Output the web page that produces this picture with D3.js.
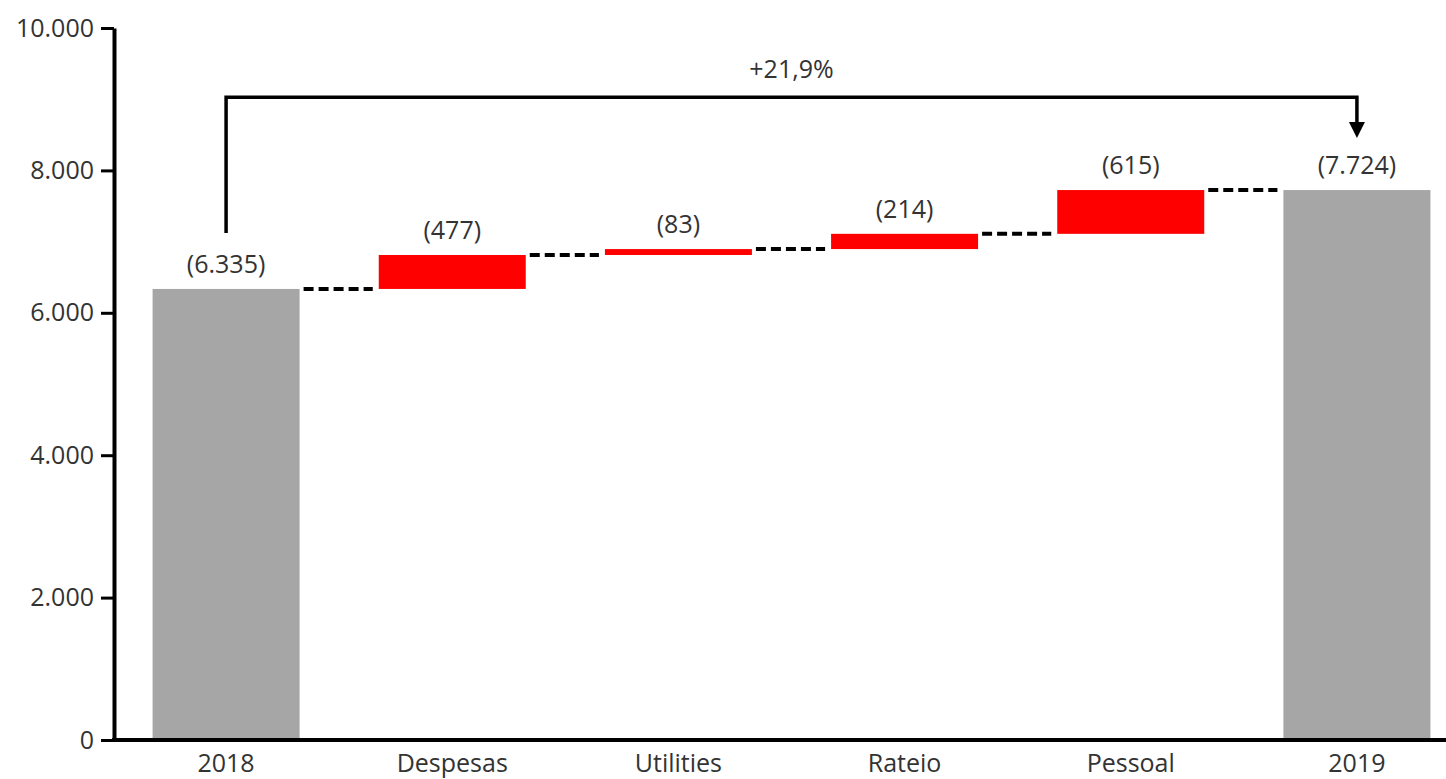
<!DOCTYPE html>
<html>
<head>
<meta charset="utf-8">
<script src="https://cdn.jsdelivr.net/npm/d3@7"></script>
<style>
  html, body { margin: 0; padding: 0; background: #fff; }
  svg { display: block; }
  text { font-family: "Open Sans", sans-serif; fill: #333; }
</style>
</head>
<body>
<svg id="chart" width="1446" height="779"></svg>
<script>
// ---- data ----
const categories = ["2018", "Despesas", "Utilities", "Rateio", "Pessoal", "2019"];
const startValue = 6335;
const deltas = [477, 83, 214, 615];
const endValue = 7724;
const yTicks = [0, 2000, 4000, 6000, 8000, 10000];

// ---- build waterfall segments ----
const segments = [];
segments.push({cat: categories[0], y0: 0, y1: startValue, label: startValue, type: "total"});
let run = startValue;
deltas.forEach((d, i) => {
  segments.push({cat: categories[i + 1], y0: run, y1: run + d, label: d, type: "delta"});
  run += d;
});
segments.push({cat: categories[5], y0: 0, y1: endValue, label: endValue, type: "total"});

const locale = d3.formatLocale({decimal: ",", thousands: ".", grouping: [3], currency: ["", ""]});
const fmt = locale.format(",d");
const pctFmt = locale.format("+.1f");

const svg = d3.select("#chart");
const x = d3.scaleBand().domain(categories).range([113, 1470]).paddingInner(0.35).paddingOuter(0.175);
const y = d3.scaleLinear().domain([0, 10000]).range([740, 28]);

// bars
svg.append("g").selectAll("rect").data(segments).join("rect")
  .attr("x", d => x(d.cat))
  .attr("width", x.bandwidth())
  .attr("y", d => y(Math.max(d.y0, d.y1)))
  .attr("height", d => Math.abs(y(d.y0) - y(d.y1)))
  .attr("fill", d => d.type === "total" ? "#a6a6a6" : "#ff0000");

// connectors
const conns = [];
for (let i = 0; i < segments.length - 1; i++) {
  conns.push({from: segments[i].cat, to: segments[i + 1].cat, v: segments[i].y1});
}
svg.append("g").selectAll("line").data(conns).join("line")
  .attr("x1", d => x(d.from) + x.bandwidth() + 4)
  .attr("x2", d => x(d.to) - 6)
  .attr("y1", d => y(d.v))
  .attr("y2", d => y(d.v))
  .attr("stroke", "#000")
  .attr("stroke-width", 4)
  .attr("stroke-dasharray", "10,5");

// value labels
svg.append("g").selectAll("text").data(segments).join("text")
  .attr("x", d => x(d.cat) + x.bandwidth() / 2)
  .attr("y", d => y(Math.max(d.y0, d.y1)) - 16)
  .attr("text-anchor", "middle")
  .style("font-size", "25px")
  .text(d => "(" + fmt(d.label) + ")");

// y axis
const yAxis = svg.append("g").attr("transform", "translate(114,0)")
  .call(d3.axisLeft(y).tickValues(yTicks).tickFormat(fmt).tickSize(13).tickSizeOuter(0).tickPadding(7));
yAxis.select(".domain").attr("stroke", "#000").attr("stroke-width", 4);
yAxis.selectAll(".tick line").attr("stroke", "#000").attr("stroke-width", 3);
yAxis.selectAll(".tick text").style("font-size", "25px").style("font-family", "Open Sans, sans-serif").attr("fill", "#333");

// x axis
const xAxis = svg.append("g").attr("transform", "translate(0,740)")
  .call(d3.axisBottom(x).tickSize(0).tickPadding(14));
xAxis.select(".domain").remove();
xAxis.append("line").attr("x1", 112).attr("x2", 1446).attr("y1", 0).attr("y2", 0)
  .attr("stroke", "#000").attr("stroke-width", 4);
xAxis.selectAll(".tick text").style("font-size", "25px").style("font-family", "Open Sans, sans-serif").attr("fill", "#333");

// bracket with arrow
const xs = x(categories[0]) + x.bandwidth() / 2;
const xe = x(categories[5]) + x.bandwidth() / 2;
const yTop = y(9000) - 2;
const yStart = y(startValue) - 56;
const tipY = y(endValue) - 52;
svg.append("path")
  .attr("d", `M${xs},${yStart} V${yTop} H${xe} V${tipY - 14}`)
  .attr("fill", "none").attr("stroke", "#000").attr("stroke-width", 3.5);
svg.append("path")
  .attr("d", `M${xe - 8},${tipY - 16} L${xe + 8},${tipY - 16} L${xe},${tipY} Z`)
  .attr("fill", "#000");
svg.append("text")
  .attr("x", (xs + xe) / 2).attr("y", yTop - 19)
  .attr("text-anchor", "middle")
  .style("font-size", "25px")
  .text(pctFmt((endValue / startValue - 1) * 100) + "%");
</script>
</body>
</html>
